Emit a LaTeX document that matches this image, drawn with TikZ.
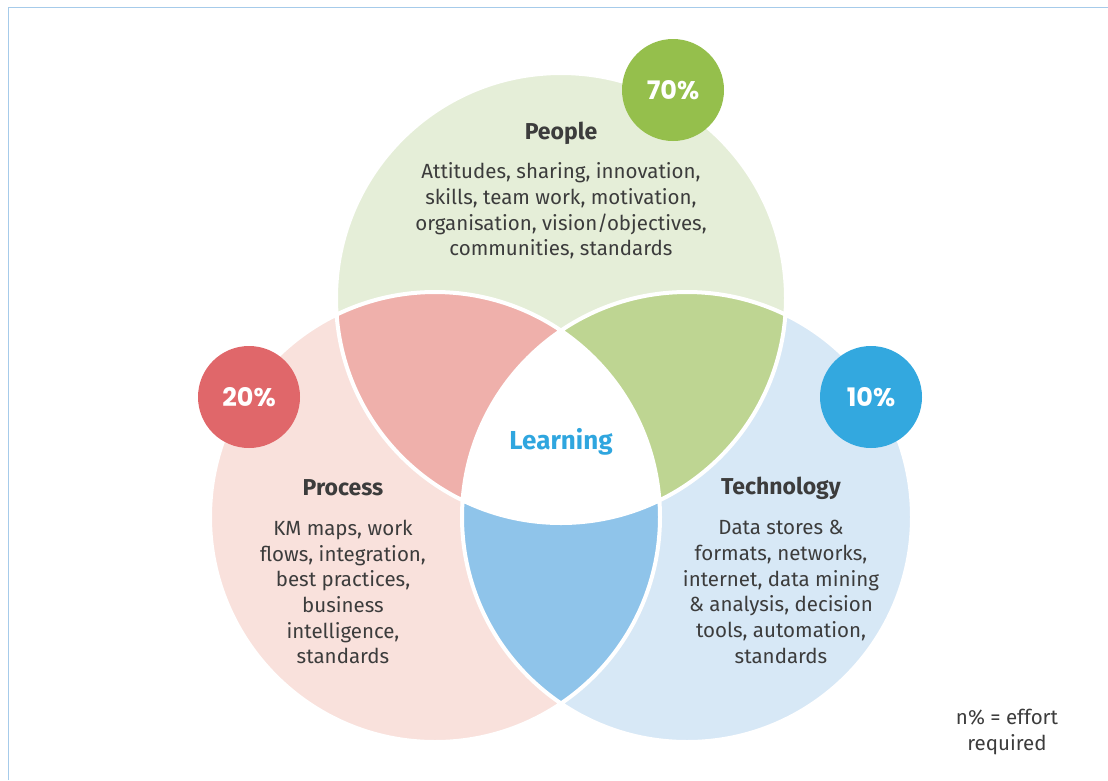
\documentclass[tikz,border=0pt]{standalone}
\usepackage{fontspec}
\setmainfont{Fira Sans}
\newfontfamily\pctfont{Poppins}
\definecolor{framec}{HTML}{A6CBEA}
\definecolor{peoplec}{HTML}{E5EED8}
\definecolor{processc}{HTML}{F9E1DC}
\definecolor{techc}{HTML}{D7E8F6}
\definecolor{peopleprocc}{HTML}{EFB0AB}
\definecolor{peopletechc}{HTML}{BED592}
\definecolor{proctechc}{HTML}{8FC4EA}
\definecolor{greenc}{HTML}{95BF4C}
\definecolor{redc}{HTML}{E0676A}
\definecolor{bluec}{HTML}{33A8DF}
\definecolor{learnc}{HTML}{2FA6DF}
\definecolor{textc}{HTML}{3C3C3C}
\begin{document}
\begin{tikzpicture}[x=1pt, y=-1pt,
        venn/.style={draw=white, line width=4pt},
        badge/.style={circle, minimum size=102pt, inner sep=0pt, text=white, font=\pctfont\bfseries\fontsize{25.5}{26}\selectfont},
        head/.style={text=textc, font=\bfseries\fontsize{23}{28}\selectfont},
        body/.style={text=textc, align=center, font=\fontsize{20.5}{25.7}\selectfont},
    ]
    \useasboundingbox (0,0) rectangle (1108,780);
    \draw[framec, line width=1.5pt] (8.5,780) -- (8.5,7.5) -- (1108,7.5);
    \coordinate (people) at (561,298);
    \coordinate (process) at (435,517);
    \coordinate (tech) at (687,517);
    \fill[peoplec] (people) circle (225pt);
    \fill[processc] (process) circle (225pt);
    \fill[techc] (tech) circle (225pt);
    \begin{scope}
        \clip (people) circle (225pt);
        \fill[peopleprocc] (process) circle (225pt);
        \fill[peopletechc] (tech) circle (225pt);
    \end{scope}
    \begin{scope}
        \clip (process) circle (225pt);
        \fill[proctechc] (tech) circle (225pt);
        \clip (tech) circle (225pt);
        \fill[white] (people) circle (225pt);
    \end{scope}
    \draw[venn] (people) circle (225pt) (process) circle (225pt) (tech) circle (225pt);
    \node[badge, fill=greenc] (p70) at (673,90) {70\%};
    \node[badge, fill=redc] (p20) at (249,397) {20\%};
    \node[badge, fill=bluec] (p10) at (871,397) {10\%};
    \node[head] (peopleh) at (561,133) {People};
    \node[body] (peopleb) at (561,211) {Attitudes, sharing, innovation,\\skills, team work, motivation,\\organisation, vision/objectives,\\communities, standards};
    \node[head] (processh) at (343,488) {Process};
    \node[body] (processb) at (343,592) {KM maps, work\\flows, integration,\\best practices,\\business\\intelligence,\\standards};
    \node[head] (techh) at (781,488) {Technology};
    \node[body] (techb) at (781,592) {Data stores \&\\formats, networks,\\internet, data mining\\\& analysis, decision\\tools, automation,\\standards};
    \node[head, text=learnc, font=\bfseries\fontsize{26}{30}\selectfont] (learning) at (561,442) {Learning};
    \node[body] (note) at (1007,732) {n\% = effort\\required};
\end{tikzpicture}
\end{document}
